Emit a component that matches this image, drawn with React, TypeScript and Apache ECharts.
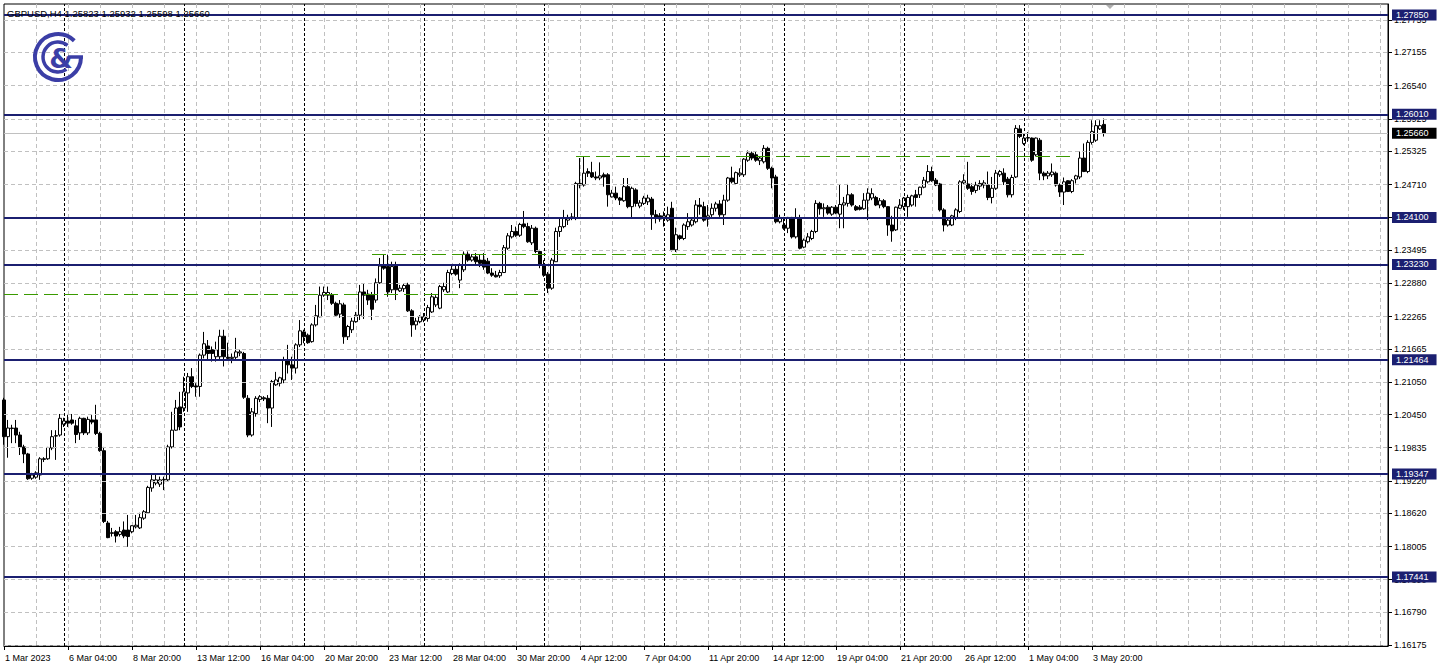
import React, { useEffect, useRef } from "react";
import * as echarts from "echarts";

// ---------- data ----------
const SYMBOL = "GBPUSD";
const TIMEFRAME = "H4";
const FIRST_BAR = Date.UTC(2023, 2, 1, 12); // 1 Mar 2023 12:00, H4 bars, Mon-Fri
const TOTAL_SLOTS = 347; // visible bar slots incl. empty right margin
const MONTHS = ["Jan", "Feb", "Mar", "Apr", "May", "Jun", "Jul", "Aug", "Sep", "Oct", "Nov", "Dec"];

// [open, close, low, high]
const CANDLES: number[][] = [
  [1.2072, 1.2004, 1.1989, 1.2076], [1.2004, 1.2020, 1.1965, 1.2035], [1.2019, 1.2020, 1.1992, 1.2026],
  [1.2020, 1.2007, 1.1992, 1.2035], [1.2007, 1.1985, 1.1970, 1.2013], [1.1985, 1.1972, 1.1955, 1.1989],
  [1.1972, 1.1926, 1.1924, 1.1974], [1.1927, 1.1933, 1.1924, 1.1937], [1.1929, 1.1937, 1.1926, 1.1940],
  [1.1933, 1.1963, 1.1924, 1.1966], [1.1963, 1.1962, 1.1957, 1.1966], [1.1963, 1.1984, 1.1961, 1.1985],
  [1.1983, 1.2004, 1.1979, 1.2016], [1.2005, 1.2006, 1.1961, 1.2016], [1.2007, 1.2038, 1.2004, 1.2046],
  [1.2027, 1.2033, 1.2022, 1.2039], [1.2033, 1.2029, 1.2022, 1.2046], [1.2035, 1.2029, 1.2026, 1.2046],
  [1.2024, 1.2008, 1.1992, 1.2035], [1.2011, 1.2038, 1.1998, 1.2041], [1.2038, 1.2011, 1.2007, 1.2039],
  [1.2011, 1.2036, 1.2007, 1.2041], [1.2035, 1.2031, 1.2027, 1.2044], [1.2035, 1.2010, 1.2007, 1.2063],
  [1.2010, 1.1978, 1.1976, 1.2013], [1.1978, 1.1847, 1.1844, 1.1985], [1.1844, 1.1817, 1.1816, 1.1848],
  [1.1826, 1.1825, 1.1819, 1.1835], [1.1828, 1.1820, 1.1808, 1.1831], [1.1823, 1.1828, 1.1819, 1.1837],
  [1.1831, 1.1820, 1.1816, 1.1847], [1.1831, 1.1819, 1.1800, 1.1859], [1.1828, 1.1839, 1.1825, 1.1840],
  [1.1837, 1.1840, 1.1834, 1.1859], [1.1835, 1.1854, 1.1833, 1.1863], [1.1853, 1.1865, 1.1850, 1.1868],
  [1.1863, 1.1910, 1.1862, 1.1913], [1.1909, 1.1924, 1.1902, 1.1935], [1.1918, 1.1924, 1.1914, 1.1933],
  [1.1916, 1.1924, 1.1911, 1.1930], [1.1924, 1.1925, 1.1905, 1.1930], [1.1924, 1.1985, 1.1921, 1.1989],
  [1.1985, 1.2016, 1.1982, 1.2050], [1.2016, 1.2057, 1.2015, 1.2072], [1.2059, 1.2022, 1.2016, 1.2087],
  [1.2057, 1.2087, 1.2050, 1.2115], [1.2085, 1.2115, 1.2050, 1.2122], [1.2115, 1.2097, 1.2094, 1.2131],
  [1.2098, 1.2096, 1.2078, 1.2103], [1.2097, 1.2155, 1.2078, 1.2158], [1.2155, 1.2176, 1.2149, 1.2198],
  [1.2172, 1.2158, 1.2146, 1.2183], [1.2165, 1.2158, 1.2143, 1.2171], [1.2152, 1.2165, 1.2143, 1.2180],
  [1.2152, 1.2190, 1.2146, 1.2202], [1.2190, 1.2152, 1.2134, 1.2202], [1.2151, 1.2149, 1.2147, 1.2178],
  [1.2149, 1.2151, 1.2140, 1.2158], [1.2151, 1.2161, 1.2146, 1.2187], [1.2159, 1.2161, 1.2153, 1.2165],
  [1.2158, 1.2077, 1.2074, 1.2161], [1.2075, 1.2007, 1.2003, 1.2081], [1.2007, 1.2050, 1.2004, 1.2057],
  [1.2047, 1.2075, 1.2041, 1.2079], [1.2073, 1.2078, 1.2068, 1.2081], [1.2076, 1.2074, 1.2070, 1.2079],
  [1.2075, 1.2057, 1.2029, 1.2081], [1.2057, 1.2106, 1.2022, 1.2109], [1.2100, 1.2109, 1.2098, 1.2124],
  [1.2103, 1.2113, 1.2097, 1.2115], [1.2109, 1.2145, 1.2103, 1.2152], [1.2145, 1.2137, 1.2121, 1.2174],
  [1.2137, 1.2131, 1.2109, 1.2152], [1.2131, 1.2174, 1.2121, 1.2177], [1.2174, 1.2200, 1.2170, 1.2220],
  [1.2198, 1.2189, 1.2177, 1.2202], [1.2192, 1.2178, 1.2176, 1.2195], [1.2180, 1.2211, 1.2178, 1.2214],
  [1.2211, 1.2228, 1.2208, 1.2248], [1.2226, 1.2266, 1.2225, 1.2282], [1.2266, 1.2271, 1.2263, 1.2282],
  [1.2266, 1.2271, 1.2257, 1.2282], [1.2266, 1.2251, 1.2248, 1.2270], [1.2251, 1.2229, 1.2226, 1.2254],
  [1.2231, 1.2250, 1.2224, 1.2257], [1.2248, 1.2189, 1.2176, 1.2252], [1.2189, 1.2208, 1.2183, 1.2211],
  [1.2202, 1.2218, 1.2196, 1.2224], [1.2217, 1.2229, 1.2215, 1.2235], [1.2229, 1.2272, 1.2220, 1.2285],
  [1.2272, 1.2266, 1.2222, 1.2288], [1.2268, 1.2257, 1.2248, 1.2276], [1.2266, 1.2240, 1.2220, 1.2272],
  [1.2257, 1.2289, 1.2252, 1.2297], [1.2289, 1.2320, 1.2287, 1.2335], [1.2320, 1.2316, 1.2313, 1.2342],
  [1.2319, 1.2272, 1.2263, 1.2341], [1.2276, 1.2319, 1.2270, 1.2328], [1.2320, 1.2276, 1.2257, 1.2328],
  [1.2274, 1.2279, 1.2272, 1.2285], [1.2278, 1.2284, 1.2272, 1.2287], [1.2285, 1.2237, 1.2235, 1.2289],
  [1.2237, 1.2211, 1.2189, 1.2240], [1.2211, 1.2218, 1.2202, 1.2224], [1.2217, 1.2226, 1.2214, 1.2229],
  [1.2220, 1.2226, 1.2216, 1.2233], [1.2223, 1.2243, 1.2217, 1.2248], [1.2235, 1.2263, 1.2233, 1.2270],
  [1.2248, 1.2262, 1.2244, 1.2266], [1.2242, 1.2282, 1.2240, 1.2285], [1.2276, 1.2282, 1.2272, 1.2289],
  [1.2272, 1.2308, 1.2270, 1.2313], [1.2306, 1.2314, 1.2303, 1.2320], [1.2314, 1.2305, 1.2302, 1.2322],
  [1.2294, 1.2322, 1.2279, 1.2325], [1.2313, 1.2342, 1.2309, 1.2347], [1.2342, 1.2331, 1.2328, 1.2347],
  [1.2331, 1.2337, 1.2328, 1.2342], [1.2337, 1.2328, 1.2322, 1.2344], [1.2331, 1.2325, 1.2318, 1.2342],
  [1.2331, 1.2318, 1.2313, 1.2344], [1.2329, 1.2307, 1.2305, 1.2335], [1.2307, 1.2303, 1.2300, 1.2316],
  [1.2303, 1.2300, 1.2299, 1.2311], [1.2302, 1.2308, 1.2298, 1.2313], [1.2308, 1.2354, 1.2307, 1.2359],
  [1.2353, 1.2376, 1.2350, 1.2381], [1.2374, 1.2384, 1.2371, 1.2396], [1.2384, 1.2377, 1.2374, 1.2393],
  [1.2377, 1.2397, 1.2374, 1.2400], [1.2398, 1.2393, 1.2390, 1.2422], [1.2393, 1.2365, 1.2363, 1.2400],
  [1.2363, 1.2390, 1.2359, 1.2396], [1.2390, 1.2347, 1.2344, 1.2393], [1.2347, 1.2322, 1.2316, 1.2350],
  [1.2322, 1.2303, 1.2300, 1.2331], [1.2305, 1.2279, 1.2270, 1.2309], [1.2279, 1.2331, 1.2276, 1.2335],
  [1.2328, 1.2384, 1.2328, 1.2391], [1.2384, 1.2393, 1.2374, 1.2408], [1.2393, 1.2408, 1.2390, 1.2424],
  [1.2405, 1.2410, 1.2396, 1.2415], [1.2408, 1.2411, 1.2405, 1.2418], [1.2408, 1.2473, 1.2405, 1.2476],
  [1.2473, 1.2470, 1.2464, 1.2520], [1.2470, 1.2492, 1.2467, 1.2523], [1.2495, 1.2492, 1.2485, 1.2501],
  [1.2493, 1.2485, 1.2483, 1.2513], [1.2485, 1.2483, 1.2479, 1.2495], [1.2483, 1.2487, 1.2479, 1.2512],
  [1.2489, 1.2485, 1.2467, 1.2493], [1.2489, 1.2452, 1.2430, 1.2492], [1.2448, 1.2455, 1.2447, 1.2461],
  [1.2455, 1.2446, 1.2442, 1.2467], [1.2446, 1.2442, 1.2433, 1.2448], [1.2441, 1.2467, 1.2439, 1.2483],
  [1.2467, 1.2430, 1.2427, 1.2483], [1.2430, 1.2464, 1.2410, 1.2467], [1.2461, 1.2436, 1.2430, 1.2464],
  [1.2431, 1.2437, 1.2427, 1.2442], [1.2436, 1.2446, 1.2433, 1.2450], [1.2439, 1.2446, 1.2433, 1.2452],
  [1.2444, 1.2415, 1.2387, 1.2448], [1.2415, 1.2408, 1.2399, 1.2424], [1.2413, 1.2407, 1.2402, 1.2418],
  [1.2408, 1.2413, 1.2393, 1.2421], [1.2405, 1.2415, 1.2402, 1.2430], [1.2427, 1.2350, 1.2347, 1.2439],
  [1.2350, 1.2378, 1.2346, 1.2391], [1.2376, 1.2371, 1.2368, 1.2378], [1.2371, 1.2396, 1.2368, 1.2399],
  [1.2393, 1.2402, 1.2387, 1.2418], [1.2396, 1.2405, 1.2393, 1.2408], [1.2402, 1.2433, 1.2399, 1.2442],
  [1.2433, 1.2430, 1.2415, 1.2446], [1.2430, 1.2405, 1.2402, 1.2439], [1.2407, 1.2413, 1.2393, 1.2433],
  [1.2415, 1.2427, 1.2411, 1.2436], [1.2427, 1.2435, 1.2421, 1.2439], [1.2435, 1.2415, 1.2411, 1.2442],
  [1.2415, 1.2442, 1.2396, 1.2452], [1.2442, 1.2483, 1.2439, 1.2485], [1.2483, 1.2476, 1.2473, 1.2504],
  [1.2473, 1.2493, 1.2470, 1.2495], [1.2489, 1.2492, 1.2485, 1.2501], [1.2489, 1.2518, 1.2485, 1.2520],
  [1.2516, 1.2529, 1.2513, 1.2534], [1.2529, 1.2520, 1.2516, 1.2532], [1.2526, 1.2516, 1.2513, 1.2532],
  [1.2515, 1.2520, 1.2507, 1.2523], [1.2513, 1.2538, 1.2510, 1.2544], [1.2538, 1.2501, 1.2498, 1.2541],
  [1.2501, 1.2483, 1.2464, 1.2504], [1.2485, 1.2402, 1.2399, 1.2489], [1.2402, 1.2410, 1.2399, 1.2415],
  [1.2396, 1.2390, 1.2387, 1.2411], [1.2390, 1.2410, 1.2381, 1.2411], [1.2410, 1.2374, 1.2371, 1.2411],
  [1.2374, 1.2410, 1.2371, 1.2427], [1.2408, 1.2353, 1.2351, 1.2415], [1.2355, 1.2368, 1.2353, 1.2371],
  [1.2365, 1.2374, 1.2362, 1.2381], [1.2371, 1.2384, 1.2368, 1.2387], [1.2384, 1.2436, 1.2381, 1.2442],
  [1.2436, 1.2426, 1.2415, 1.2439], [1.2426, 1.2428, 1.2411, 1.2436], [1.2429, 1.2418, 1.2415, 1.2433],
  [1.2416, 1.2429, 1.2413, 1.2431], [1.2429, 1.2418, 1.2416, 1.2433], [1.2416, 1.2434, 1.2390, 1.2472],
  [1.2433, 1.2437, 1.2390, 1.2448], [1.2436, 1.2452, 1.2430, 1.2472], [1.2452, 1.2433, 1.2430, 1.2455],
  [1.2430, 1.2424, 1.2422, 1.2433], [1.2429, 1.2425, 1.2423, 1.2433], [1.2426, 1.2442, 1.2424, 1.2455],
  [1.2442, 1.2455, 1.2405, 1.2464], [1.2446, 1.2454, 1.2442, 1.2464], [1.2447, 1.2433, 1.2431, 1.2450],
  [1.2433, 1.2441, 1.2427, 1.2446], [1.2441, 1.2430, 1.2427, 1.2444], [1.2430, 1.2396, 1.2376, 1.2431],
  [1.2396, 1.2385, 1.2365, 1.2413], [1.2387, 1.2429, 1.2385, 1.2430], [1.2427, 1.2433, 1.2426, 1.2444],
  [1.2430, 1.2446, 1.2424, 1.2448], [1.2430, 1.2447, 1.2411, 1.2452], [1.2433, 1.2450, 1.2430, 1.2452],
  [1.2452, 1.2447, 1.2430, 1.2461], [1.2452, 1.2466, 1.2446, 1.2467], [1.2466, 1.2479, 1.2464, 1.2485],
  [1.2476, 1.2495, 1.2473, 1.2507], [1.2495, 1.2478, 1.2476, 1.2504], [1.2479, 1.2470, 1.2468, 1.2483],
  [1.2472, 1.2424, 1.2421, 1.2474], [1.2424, 1.2396, 1.2384, 1.2427], [1.2396, 1.2405, 1.2393, 1.2410],
  [1.2396, 1.2413, 1.2394, 1.2415], [1.2410, 1.2424, 1.2405, 1.2427], [1.2421, 1.2476, 1.2418, 1.2479],
  [1.2474, 1.2478, 1.2470, 1.2490], [1.2472, 1.2464, 1.2461, 1.2513], [1.2467, 1.2458, 1.2452, 1.2473],
  [1.2460, 1.2470, 1.2455, 1.2476], [1.2468, 1.2473, 1.2461, 1.2479], [1.2470, 1.2474, 1.2464, 1.2479],
  [1.2470, 1.2447, 1.2442, 1.2495], [1.2447, 1.2464, 1.2436, 1.2485], [1.2464, 1.2492, 1.2461, 1.2498],
  [1.2489, 1.2495, 1.2485, 1.2498], [1.2492, 1.2476, 1.2470, 1.2501], [1.2481, 1.2452, 1.2447, 1.2485],
  [1.2452, 1.2484, 1.2447, 1.2489], [1.2485, 1.2575, 1.2483, 1.2581], [1.2574, 1.2560, 1.2557, 1.2581],
  [1.2547, 1.2557, 1.2544, 1.2566], [1.2557, 1.2558, 1.2550, 1.2568], [1.2557, 1.2516, 1.2513, 1.2558],
  [1.2526, 1.2557, 1.2523, 1.2558], [1.2553, 1.2492, 1.2479, 1.2557], [1.2492, 1.2487, 1.2479, 1.2495],
  [1.2487, 1.2492, 1.2481, 1.2496], [1.2489, 1.2494, 1.2485, 1.2510], [1.2492, 1.2470, 1.2467, 1.2495],
  [1.2470, 1.2457, 1.2448, 1.2473], [1.2457, 1.2476, 1.2433, 1.2484], [1.2478, 1.2458, 1.2457, 1.2479],
  [1.2458, 1.2478, 1.2455, 1.2481], [1.2481, 1.2487, 1.2473, 1.2489], [1.2485, 1.2520, 1.2481, 1.2532],
  [1.2520, 1.2495, 1.2494, 1.2547], [1.2495, 1.2549, 1.2492, 1.2553], [1.2549, 1.2569, 1.2545, 1.2590],
  [1.2553, 1.2580, 1.2550, 1.2590], [1.2574, 1.2580, 1.2572, 1.2590], [1.25823, 1.2566, 1.25598, 1.25932],
];

const Y_TICKS = [
  1.16175, 1.1679, 1.1739, 1.18005, 1.1862, 1.1922, 1.19835, 1.2045, 1.2105, 1.21665,
  1.22265, 1.2288, 1.23495, 1.24095, 1.2471, 1.25325, 1.25925, 1.2654, 1.27155, 1.27755,
];
const Y_MIN = 1.16163;
const Y_MAX = 1.28053;

const LEVELS = [1.2785, 1.2601, 1.241, 1.2323, 1.21464, 1.19347, 1.17441];
const BID = 1.2566;
// green dashed segments: start bar, end bar, price
const GREEN_FROM = [0, 92, 143];
const GREEN_TO = [134, 270, 267];
const GREEN_PRICE = [1.22677, 1.23423, 1.25229];

// ---------- derived categories ----------
const BAR_TIMES: number[] = (() => {
  const out: number[] = [];
  let t = FIRST_BAR;
  while (out.length < TOTAL_SLOTS) {
    const wd = new Date(t).getUTCDay();
    if (wd >= 1 && wd <= 5) out.push(t);
    t += 4 * 3600 * 1000;
  }
  return out;
})();
const CATEGORIES = BAR_TIMES.map((t, i) => {
  const d = new Date(t);
  const head = `${d.getUTCDate()} ${MONTHS[d.getUTCMonth()]}`;
  if (i === 0) return `${head} ${d.getUTCFullYear()}`;
  return `${head} ${String(d.getUTCHours()).padStart(2, "0")}:00`;
});
const SEPARATORS = BAR_TIMES.map((t, i) => ({ t, i }))
  .filter(({ t, i }) => i < CANDLES.length && new Date(t).getUTCDay() === 1 && new Date(t).getUTCHours() === 0)
  .map((x) => x.i);

const FONT = "Liberation Sans";
const NAVY = "#1b1f70";
const LOGO = "#3b3ea6";

export default function App() {
  const ref = useRef<HTMLDivElement>(null);
  useEffect(() => {
    if (!ref.current) return;
    const chart = echarts.init(ref.current, undefined, { renderer: "svg" });
    const last = CANDLES[CANDLES.length - 1];
    const title = `${SYMBOL},${TIMEFRAME} ${last[0].toFixed(5)} ${last[3].toFixed(5)} ${last[2].toFixed(5)} ${last[1].toFixed(5)}`;
    const hidden = CANDLES.map((c) => c[1]);
    const boxLabel = (bg: string) => ({
      show: true,
      position: "end",
      distance: 4,
      formatter: (p: any) => Number(p.value).toFixed(5),
      color: "#fff",
      backgroundColor: bg,
      fontSize: 9,
      fontFamily: FONT,
      lineHeight: 10,
      padding: [1, 8, 0, 4],
    });
    const helper = (name: string, z: number, markLine: any) => ({
      name,
      type: "line",
      data: hidden,
      symbol: "none",
      silent: true,
      z,
      lineStyle: { opacity: 0 },
      markLine: { silent: true, symbol: ["none", "none"], precision: 5, animation: false, ...markLine },
    });
    const option: any = {
      animation: false,
      backgroundColor: "#ffffff",
      textStyle: { fontFamily: FONT },
      grid: { left: 4, right: 50, top: 4, bottom: 25, show: true, borderColor: "#000", borderWidth: 1 },
      xAxis: {
        type: "category",
        data: CATEGORIES,
        boundaryGap: false,
        axisLine: { show: true, lineStyle: { color: "#000", width: 1 } },
        axisTick: {
          show: true,
          interval: (i: number) => i % 16 === 0 && i < CANDLES.length,
          length: 4,
          lineStyle: { color: "#000" },
        },
        axisLabel: {
          interval: (i: number) => i % 16 === 0 && i < CANDLES.length,
          align: "left",
          margin: 7,
          color: "#000",
          fontSize: 9,
          fontFamily: FONT,
          padding: [0, 0, 0, 1],
        },
        splitLine: {
          show: true,
          interval: (i: number) => i % 8 === 0 && i > 0,
          lineStyle: { color: "#c0c0c0", type: [4, 3], width: 1 },
        },
      },
      yAxis: {
        type: "value",
        position: "right",
        min: Y_MIN,
        max: Y_MAX,
        axisLine: { show: true, lineStyle: { color: "#000" } },
        axisTick: { show: true, customValues: Y_TICKS, length: 4, lineStyle: { color: "#000" } },
        axisLabel: {
          customValues: Y_TICKS,
          formatter: (v: number) => v.toFixed(5),
          color: "#000",
          fontSize: 9,
          fontFamily: FONT,
          margin: 6,
        },
        splitLine: { show: false },
      },
      series: [
        helper("hgrid", 1, {
          label: { show: false },
          lineStyle: { color: "#c0c0c0", type: [4, 3], width: 1 },
          data: Y_TICKS.map((v) => ({ yAxis: v })),
        }),
        helper("separators", 1, {
          label: { show: false },
          lineStyle: { color: "#000", type: [3, 2], width: 1 },
          data: SEPARATORS.map((i) => ({ xAxis: i })),
        }),
        helper("bid", 2, {
          label: boxLabel("#000"),
          lineStyle: { color: "#c0c0c0", type: "solid", width: 1 },
          data: [{ yAxis: BID }],
        }),
        {
          name: SYMBOL,
          type: "candlestick",
          data: CANDLES,
          barWidth: 3,
          z: 3,
          itemStyle: {
            color: "#ffffff",
            color0: "#000000",
            borderColor: "#000000",
            borderColor0: "#000000",
            borderWidth: 1,
          },
        },
        helper("green", 4, {
          label: { show: false },
          lineStyle: { color: "#3a9a00", type: [14, 6], width: 1 },
          data: GREEN_PRICE.map((p, k) => [{ coord: [GREEN_FROM[k], p] }, { coord: [GREEN_TO[k], p] }]),
        }),
        helper("levels", 5, {
          label: boxLabel(NAVY),
          lineStyle: { color: NAVY, type: "solid", width: 2 },
          data: LEVELS.map((v) => ({ yAxis: v })),
        }),
      ],
      graphic: [
        {
          type: "text",
          left: 7,
          top: 8,
          z: 100,
          style: { text: title, font: `9.5px "${FONT}"`, fill: "#000" },
        },
        {
          type: "arc",
          z: 100,
          shape: { cx: 58, cy: 57, r: 23, startAngle: 0, endAngle: Math.PI * 1.75, clockwise: true },
          style: { stroke: LOGO, lineWidth: 4, fill: "none" },
        },
        {
          type: "line",
          z: 100,
          shape: { x1: 68, y1: 57, x2: 83, y2: 57 },
          style: { stroke: LOGO, lineWidth: 3.5 },
        },
        {
          type: "arc",
          z: 100,
          shape: { cx: 58, cy: 57, r: 15, startAngle: Math.PI * 0.31, endAngle: Math.PI * 1.72, clockwise: true },
          style: { stroke: LOGO, lineWidth: 3.5, fill: "none" },
        },
        {
          type: "text",
          z: 101,
          x: 61,
          y: 58,
          style: { text: "&", font: 'bold 27px "DejaVu Sans"', fill: LOGO, align: "center", verticalAlign: "middle" },
        },
        {
          type: "polygon",
          z: 100,
          shape: { points: [[1106, 5], [1114, 5], [1110, 9]] },
          style: { fill: "#b0b0b0" },
        },
      ],
    };
    chart.setOption(option);
    return () => chart.dispose();
  }, []);
  return (
    <div
      ref={ref}
      style={{ position: "fixed", left: 0, top: 0, width: 1438, height: 671, background: "#fff" }}
    />
  );
}
